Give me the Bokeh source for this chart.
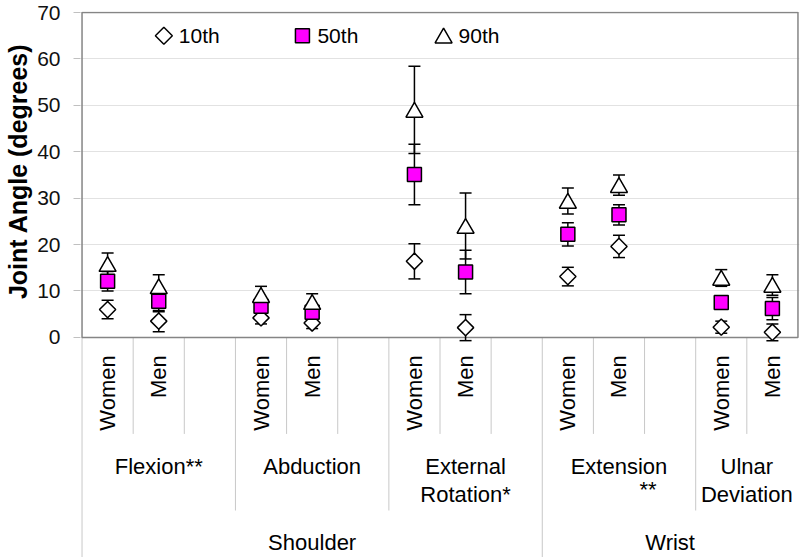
import math
from bokeh.plotting import figure
from bokeh.models import Range1d, FixedTicker, ColumnDataSource, Title
from bokeh.transform import dodge
from bokeh.core.properties import value
from bokeh.embed import file_html
from bokeh.resources import INLINE

# ---------------- data ----------------
joints = ["Shoulder", "Shoulder", "Shoulder", "Wrist", "Wrist"]
motion_line1 = ["Flexion**", "Abduction", "External", "Extension", "Ulnar"]
motion_line2 = ["", "", "Rotation*", "", "Deviation"]
extension_note = "**"
sexes = ["Women", "Men"]

# order: Flexion W, M, Abduction W, M, Ext.Rot W, M, Extension W, M, Ulnar W, M
p10 = [6.0, 3.5, 4.2, 3.1, 16.4, 2.1, 13.1, 19.6, 2.2, 1.1]
p10_err = [2.0, 2.3, 1.3, 1.2, 3.8, 2.8, 2.0, 2.4, 1.3, 1.8]
p50 = [12.1, 7.8, 6.7, 5.4, 35.1, 14.1, 22.2, 26.4, 7.5, 6.2]
p50_err = [2.1, 2.3, 1.5, 1.4, 6.5, 4.7, 2.5, 2.2, 1.4, 2.4]
p90 = [15.8, 11.0, 9.1, 7.6, 49.0, 24.0, 29.4, 32.8, 12.8, 11.3]
p90_err = [2.4, 2.5, 1.9, 1.8, 9.4, 7.1, 2.8, 2.2, 1.8, 2.2]

y_ticks = [0, 10, 20, 30, 40, 50, 60, 70]
legend_labels = ["10th", "50th", "90th"]
y_title = "Joint Angle (degrees)"

# ---------------- category layout (slots) ----------------
slot_x, sex_lab, motion_center = [], [], []
sep1, sep2, sep3 = [], [], [0]
joint_spans = {}
pos = 0
n_m = len(motion_line1)
for m in range(n_m):
    start = pos
    for s in sexes:
        slot_x.append(pos + 0.5)
        sex_lab.append(s)
        pos += 1
    last = (m == n_m - 1)
    if not last:
        pos += 1
    end = pos
    motion_center.append((start + end) / 2)
    for b in range(start + 1, end):
        sep1.append(b)
    if not last:
        if joints[m + 1] == joints[m]:
            sep2.append(end)
        else:
            sep3.append(end)
    js = joint_spans.setdefault(joints[m], [start, end])
    js[1] = end
n_slots = pos
joint_names = list(joint_spans.keys())
joint_center = [(joint_spans[j][0] + joint_spans[j][1]) / 2 for j in joint_names]

# frame: top at 11px, value 0 at 336px, bottom at 557px  (4.66 px per unit)
Y_TOP = 70.0 + 1.0 / 4.66
Y_BOTTOM = -(557 - 336) / 4.66
p = figure(width=800, height=557, output_backend="svg", toolbar_location=None,
           x_range=Range1d(-0.03, n_slots + 0.03), y_range=Range1d(Y_BOTTOM, Y_TOP),
           x_axis_location=None, min_border_left=80, min_border_right=1,
           min_border_top=11, min_border_bottom=0)
p.outline_line_color = None
p.background_fill_color = "white"
p.xgrid.visible = False
p.ygrid.ticker = FixedTicker(ticks=y_ticks[1:])
p.ygrid.grid_line_color = "#e2e2e2"
p.ygrid.grid_line_width = 1

yax = p.yaxis[0]
yax.ticker = FixedTicker(ticks=y_ticks)
yax.bounds = (y_ticks[0], y_ticks[-1])
yax.axis_line_color = None
yax.major_tick_out = 7
yax.major_tick_in = 0
yax.minor_tick_out = 0
yax.minor_tick_in = 0
yax.major_tick_line_color = "#c0c0c0"
yax.major_label_text_font = "Liberation Sans"
yax.major_label_text_font_size = "21px"
yax.major_label_text_color = "#111111"
yax.major_label_standoff = 13

ytitle = Title(text=y_title, align="right", offset=32, vertical_align="top",
               standoff=2, text_font="Liberation Sans", text_font_style="bold",
               text_font_size="25px", text_color="black")
p.add_layout(ytitle, "left")

FONT = value("Liberation Sans")
SEP_COLOR = "#c8c8c8"

# separators in the category area
p.segment(x0=sep1, y0=[0] * len(sep1), x1=sep1, y1=[-20.8] * len(sep1),
          line_color=SEP_COLOR, line_width=1)
p.segment(x0=sep2, y0=[0] * len(sep2), x1=sep2, y1=[-37.3] * len(sep2),
          line_color=SEP_COLOR, line_width=1)
p.segment(x0=sep3, y0=[0] * len(sep3), x1=sep3, y1=[Y_BOTTOM] * len(sep3),
          line_color=SEP_COLOR, line_width=1)

# plot-area border
p.quad(left=[0], right=[n_slots], bottom=[y_ticks[0]], top=[y_ticks[-1]],
       fill_alpha=0, line_color="#858585", line_width=1.5)

# category labels
p.text(x=slot_x, y=[-3.86] * len(slot_x), text=sex_lab, angle=math.pi / 2,
       text_align="right", text_baseline="middle", text_font=FONT,
       text_font_size="22px", text_color="black")
p.text(x=motion_center, y=[-27.9] * n_m, text=motion_line1, text_align="center",
       text_baseline="middle", text_font=FONT, text_font_size="22px", text_color="black")
p.text(x=motion_center, y=[-33.9] * n_m, text=motion_line2, text_align="center",
       text_baseline="middle", text_font=FONT, text_font_size="22px", text_color="black")
p.text(x=[motion_center[3]], y=[-32.8], text=[extension_note], x_offset=29,
       text_align="center", text_baseline="middle", text_font=FONT,
       text_font_size="22px", text_color="black")
p.text(x=joint_center, y=[-44.2] * len(joint_center), text=joint_names,
       text_align="center", text_baseline="middle", text_font=FONT,
       text_font_size="22px", text_color="black")

# data
src = ColumnDataSource(dict(
    x=slot_x,
    p10=p10, lo10=[v - e for v, e in zip(p10, p10_err)], hi10=[v + e for v, e in zip(p10, p10_err)],
    p50=p50, lo50=[v - e for v, e in zip(p50, p50_err)], hi50=[v + e for v, e in zip(p50, p50_err)],
    p90=p90, lo90=[v - e for v, e in zip(p90, p90_err)], hi90=[v + e for v, e in zip(p90, p90_err)],
))

for k in ["10", "50", "90"]:
    p.segment(x0="x", y0="lo" + k, x1="x", y1="hi" + k, source=src,
              line_color="black", line_width=1.5)
    p.scatter(x="x", y="lo" + k, source=src, marker="dash", size=12,
              line_color="black", line_width=1.5)
    p.scatter(x="x", y="hi" + k, source=src, marker="dash", size=12,
              line_color="black", line_width=1.5)

DIAMOND = dict(marker="square", angle=math.pi / 4, fill_color="white",
               line_color="black", line_width=1.5)
SQUARE = dict(marker="square", fill_color="#ff00ff", line_color="black", line_width=1.5)
TRIANGLE = dict(marker="triangle", fill_color="white", line_color="black", line_width=1.5)

p.scatter(x="x", y="p10", source=src, size=11.5, **DIAMOND)
p.scatter(x="x", y="p50", source=src, size=14, **SQUARE)
p.scatter(x="x", y=dodge("p90", -0.5, range=p.y_range), source=src, size=17, **TRIANGLE)

# legend (key + label), drawn inside the plot area
leg_x = [1.6, 4.31, 7.07]
leg_y = 65.0
p.scatter(x=[leg_x[0]], y=[leg_y], size=12, **DIAMOND)
p.scatter(x=[leg_x[1]], y=[leg_y], size=14, **SQUARE)
p.scatter(x=[leg_x[2]], y=[leg_y - 0.5], size=17, **TRIANGLE)
p.text(x=leg_x, y=[leg_y] * 3, text=legend_labels, x_offset=15, text_align="left",
       text_baseline="middle", text_font=FONT, text_font_size="21px", text_color="black")

open("out.html", "w").write(file_html(p, INLINE))
